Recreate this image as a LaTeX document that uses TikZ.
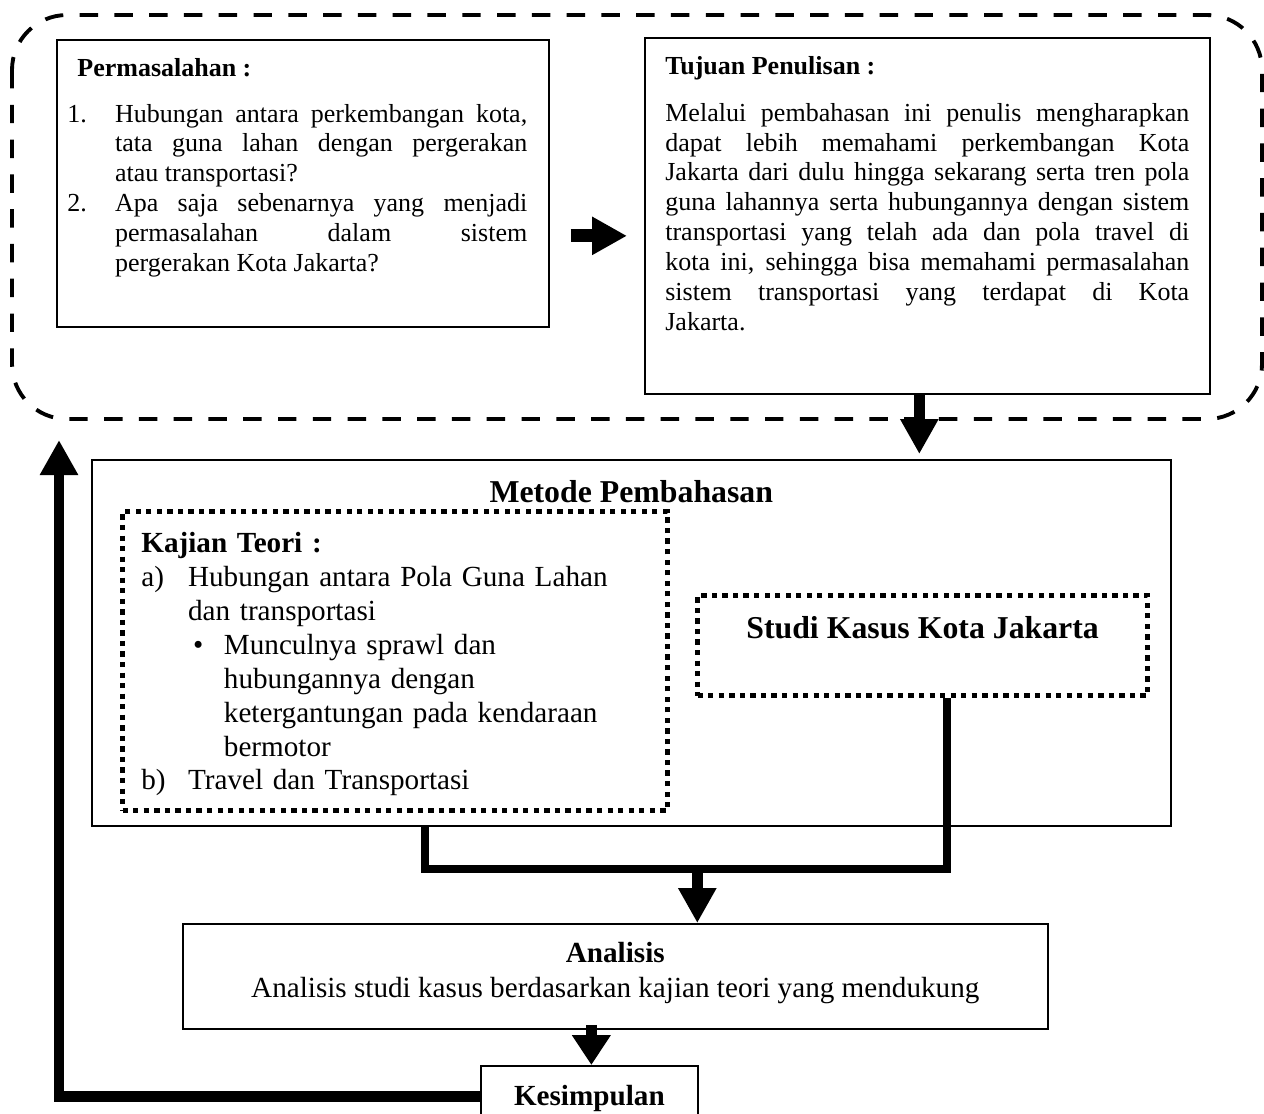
\documentclass[tikz,border=0pt]{standalone}
\usepackage{fontspec}
\setmainfont{Liberation Serif}
\usetikzlibrary{arrows.meta}
\tikzset{plainbox/.style={draw, line width=1pt, inner sep=0pt, anchor=north west}}
\tikzset{dotbox/.style={draw, line width=3pt, dash pattern=on 3pt off 3pt, inner sep=0pt, anchor=north west}}
\tikzset{txt/.style={inner sep=0pt, anchor=north west}}
\tikzset{fatarrow/.style={line width=0.22cm, -{Triangle[length=0.7cm,width=0.72cm]}}}
\tikzset{joinline/.style={line width=0.16cm}}
\tikzset{groupframe/.style={line width=2.2pt, dash pattern=on 10.5pt off 9.3pt, rounded corners=1.1cm}}
\newcommand{\smallsize}{\fontsize{14.8}{17}\selectfont}
\newcommand{\midsize}{\fontsize{16.6}{19.3}\selectfont}
\newcommand{\bigsize}{\fontsize{18.1}{21}\selectfont}
\newcommand{\hangitem}[3]{\par\noindent\hangindent=#1\hangafter=1\makebox[#1][l]{#2}#3\par}

\begin{document}
\begin{tikzpicture}[x=0.02cm,y=-0.02cm]
    \useasboundingbox (0,0) rectangle (1264,1113);
    \draw[groupframe] (12,15) rectangle (1262,419);

    \node[plainbox, minimum width=9.84cm, minimum height=5.74cm] (perm) at (56,39) {};
    \node[txt, text width=9.2cm, align=justify, font=\smallsize] (permtext) at ([shift={(11,19)}]perm.north west) {%
      \noindent\hspace*{5.7pt}{\bfseries Permasalahan :}\par\vspace{9pt}
      \hangitem{27.2pt}{1.}{Hubungan antara perkembangan kota,\linebreak tata guna lahan dengan pergerakan\linebreak atau transportasi?}
      \hangitem{27.2pt}{2.}{Apa saja sebenarnya yang menjadi\linebreak permasalahan dalam sistem\linebreak pergerakan Kota Jakarta?}};

    \node[plainbox, minimum width=11.3cm, minimum height=7.12cm] (tujuan) at (644,37) {};
    \node[txt, text width=10.48cm, align=justify, font=\smallsize] (tujuantext) at ([shift={(21,19)}]tujuan.north west) {%
      \noindent{\bfseries Tujuan Penulisan :}\par\vspace{9.6pt}
      \noindent Melalui pembahasan ini penulis mengharapkan\linebreak dapat lebih memahami perkembangan Kota\linebreak Jakarta dari dulu hingga sekarang serta tren pola\linebreak guna lahannya serta hubungannya dengan sistem\linebreak transportasi yang telah ada dan pola travel di\linebreak kota ini, sehingga bisa memahami permasalahan\linebreak sistem transportasi yang terdapat di Kota\linebreak Jakarta.\par};

    \node[plainbox, minimum width=21.58cm, minimum height=7.32cm] (metode) at (91,459) {};
    \node[inner sep=0pt, font=\bigsize\bfseries] (metodetitle) at ([shift={(0,33)}]metode.north) {Metode Pembahasan};

    \node[dotbox, minimum width=10.9cm, minimum height=5.98cm] (kajian) at (120,509) {};
    \node[txt, text width=10cm, align=left, font=\midsize] (kajiantext) at ([shift={(21,23)}]kajian.north west) {%
      \noindent{\bfseries Kajian Teori :}\par
      \hangitem{26.6pt}{a)}{Hubungan antara Pola Guna Lahan\newline dan transportasi}
      \hangitem{47pt}{\hspace*{29.5pt}\textbullet}{Munculnya sprawl dan\newline hubungannya dengan\newline ketergantungan pada kendaraan\newline bermotor}
      \hangitem{26.6pt}{b)}{Travel dan Transportasi}};

    \node[dotbox, minimum width=9cm, minimum height=2cm] (studi) at (695,593) {};
    \node[inner sep=0pt, font=\bigsize\bfseries] (studitext) at ([shift={(0,-18)}]studi.center) {Studi Kasus Kota Jakarta};

    \node[plainbox, minimum width=17.3cm, minimum height=2.1cm] (analisis) at (182,923) {};
    \node[txt, anchor=north, align=center, font=\midsize] (analisistext) at ([shift={(0,19)}]analisis.north) {{\bfseries Analisis}\\[0.5pt] Analisis studi kasus berdasarkan kajian teori yang mendukung};

    \node[plainbox, minimum width=4.34cm, minimum height=1.24cm] (kes) at (480,1065) {};
    \node[txt, anchor=north, font=\midsize\bfseries] (kestext) at ([shift={(0,20)}]kes.north) {Kesimpulan};

    \path ([shift={(0,52.5)}]perm.east) coordinate (rarrow);
    \draw[fatarrow, line width=0.26cm, shorten <=0.42cm, shorten >=0.34cm] (rarrow) -- (rarrow -| tujuan.west);
    \path ([shift={(-8,0)}]tujuan.south) coordinate (tdown);
    \draw[fatarrow, shorten >=0.1cm] (tdown) -- (tdown |- metode.north);

    \path ([shift={(30,0)}]kajian.south) coordinate (kajx);
    \path ([shift={(24,0)}]studi.south) coordinate (studx);
    \path ([shift={(82,-54)}]analisis.north) coordinate (join);
    \draw[joinline] (kajx |- metode.south) |- (join) -| (studx);
    \draw[fatarrow] (join) -- (join |- analisis.north);

    \path ([shift={(2,-5)}]kes.north |- analisis.south) coordinate (aout);
    \draw[fatarrow, -{Triangle[length=0.6cm,width=0.74cm]}] (aout) -- (aout |- kes.north);
    \path ([shift={(-32,-19)}]metode.north west) coordinate (fbtip);
    \draw[fatarrow] (kes.west) -| (fbtip);
\end{tikzpicture}
\end{document}
